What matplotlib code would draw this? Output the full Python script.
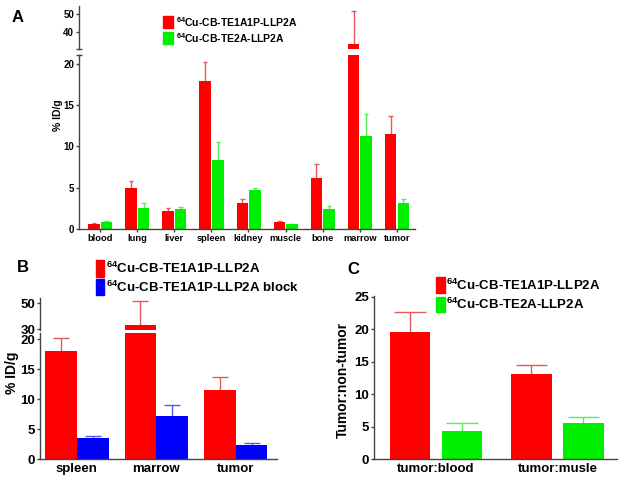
import matplotlib
matplotlib.use("Agg")
import matplotlib.pyplot as plt
from matplotlib.patches import Rectangle
import numpy as np

plt.rcParams['font.family'] = 'Liberation Sans'
plt.rcParams['font.weight'] = 'bold'
plt.rcParams['mathtext.fontset'] = 'custom'
plt.rcParams['mathtext.bf'] = 'Liberation Sans:bold'
plt.rcParams['mathtext.rm'] = 'Liberation Sans:bold'

# panel A: biodistribution
organs = ["blood", "lung", "liver", "spleen", "kidney", "muscle", "bone", "marrow", "tumor"]
a_te1a1p = [0.6, 5.0, 2.2, 17.9, 3.2, 0.9, 6.2, 33.3, 11.5]
a_te1a1p_err = [0.1, 0.8, 0.3, 2.3, 0.4, 0.1, 1.7, 18.5, 2.2]
a_te2a = [0.8, 2.6, 2.4, 8.4, 4.7, 0.55, 2.4, 11.3, 3.1]
a_te2a_err = [0.2, 0.5, 0.3, 2.1, 0.3, 0.05, 0.35, 2.6, 0.5]

# panel B: blocking
b_organs = ["spleen", "marrow", "tumor"]
b_te1a1p = [18.0, 33.3, 11.5]
b_te1a1p_err = [2.3, 18.5, 2.2]
b_block = [3.5, 7.25, 2.4]
b_block_err = [0.4, 1.8, 0.2]

# panel C: ratios
ratios = ["tumor:blood", "tumor:musle"]
c_te1a1p = [19.6, 13.1]
c_te1a1p_err = [3.1, 1.4]
c_te2a = [4.3, 5.6]
c_te2a_err = [1.3, 0.9]

RED = "#ff0000"
GREEN = "#00ee00"
BLUE = "#0000ff"
ERR_RED = "#e85a5a"
ERR_GREEN = "#55ee55"
ERR_BLUE = "#5555ff"
SPINE = "#444444"

W, H = 624, 482
fig = plt.figure(figsize=(6.24, 4.82), dpi=100)


def px_axes(left, top, right, bottom):
    return fig.add_axes([left / W, 1 - bottom / H, (right - left) / W, (bottom - top) / H])


def style(ax, size, bottom=True):
    for s in ["top", "right"]:
        ax.spines[s].set_visible(False)
    ax.spines["left"].set_color(SPINE)
    ax.spines["bottom"].set_color(SPINE)
    ax.spines["left"].set_linewidth(1)
    ax.spines["bottom"].set_linewidth(1)
    ax.tick_params(direction="out", length=2.5, width=1, pad=1, labelsize=size, colors=SPINE,
                   labelcolor="black")
    if not bottom:
        ax.spines["bottom"].set_visible(False)
        ax.tick_params(axis="x", bottom=False, labelbottom=False)


def bars(ax, x, vals, errs, width, color, ecolor, capw):
    x = np.asarray(x)
    vals = np.asarray(vals)
    errs = np.asarray(errs)
    ax.bar(x, vals, width=width, color=color, zorder=2)
    ax.vlines(x, vals, vals + errs, color=ecolor, lw=1, zorder=1)
    ax.hlines(vals + errs, x - capw, x + capw, color=ecolor, lw=1, zorder=1)


def end_caps(ax, where):
    for y in where:
        ax.plot([0], [y], marker="_", ms=5, mew=1, color=SPINE, transform=ax.transAxes, clip_on=False)


# ---------- panel A ----------
xa = np.arange(len(organs))
a_lo = px_axes(79, 55, 415, 229)
a_hi = px_axes(79, 6, 415, 49)
for ax in (a_lo, a_hi):
    bars(ax, xa - 0.165, a_te1a1p, a_te1a1p_err, 0.31, RED, ERR_RED, 0.06)
    bars(ax, xa + 0.175, a_te2a, a_te2a_err, 0.31, GREEN, ERR_GREEN, 0.06)
    ax.set_xlim(-0.566, 8.49)
a_lo.set_ylim(0, 21.09)
a_lo.set_yticks([0, 5, 10, 15, 20])
a_lo.set_xticks(xa)
a_lo.set_xticklabels(organs)
a_hi.set_ylim(30.6, 54.4)
a_hi.set_yticks([40, 50])
style(a_lo, 7)
style(a_hi, 7, bottom=False)
a_lo.tick_params(axis="x", labelsize=6.7)
end_caps(a_lo, [1])
end_caps(a_hi, [0])
fig.text(58 / W, 1 - 115 / H, "% ID/g", rotation=90, ha="center", va="center", fontsize=7.5)

# ---------- panel B ----------
xb = np.arange(len(b_organs))
b_lo = px_axes(40, 333, 277, 459)
b_hi = px_axes(40, 298, 277, 329.5)
for ax in (b_lo, b_hi):
    bars(ax, xb - 0.2, b_te1a1p, b_te1a1p_err, 0.4, RED, ERR_RED, 0.1)
    bars(ax, xb + 0.2, b_block, b_block_err, 0.4, BLUE, ERR_BLUE, 0.1)
    ax.set_xlim(-0.465, 2.52)
b_lo.set_ylim(0, 21.06)
b_lo.set_yticks([0, 5, 10, 15, 20])
b_lo.set_xticks(xb)
b_lo.set_xticklabels(b_organs)
b_hi.set_ylim(29.85, 54.1)
b_hi.set_yticks([30, 50])
style(b_lo, 9.5)
style(b_hi, 9.5, bottom=False)
b_lo.tick_params(axis="x", length=0, pad=3)
fig.text(12 / W, 1 - 373 / H, "% ID/g", rotation=90, ha="center", va="center", fontsize=10)

# ---------- panel C ----------
xc = np.arange(len(ratios))
c_ax = px_axes(374, 296, 617, 459)
bars(c_ax, xc - 0.214, c_te1a1p, c_te1a1p_err, 0.33, RED, ERR_RED, 0.13)
bars(c_ax, xc + 0.214, c_te2a, c_te2a_err, 0.33, GREEN, ERR_GREEN, 0.13)
c_ax.set_xlim(-0.51, 1.49)
c_ax.set_ylim(0, 25.1)
c_ax.set_yticks([0, 5, 10, 15, 20, 25])
c_ax.set_xticks(xc)
c_ax.set_xticklabels(ratios)
style(c_ax, 9.5)
c_ax.tick_params(axis="x", length=0, pad=3)
fig.text(343 / W, 1 - 380 / H, "Tumor:non-tumor", rotation=90, ha="center", va="center", fontsize=10)

# ---------- panel letters ----------
fig.text(17.5 / W, 1 - 17 / H, "A", ha="center", va="center", fontsize=12)
fig.text(22.5 / W, 1 - 268 / H, "B", ha="center", va="center", fontsize=12)
fig.text(353 / W, 1 - 270 / H, "C", ha="center", va="center", fontsize=12)


# ---------- legends ----------
def legend_entry(x0, y0, x1, y1, color, label, tx, size):
    fig.add_artist(Rectangle((x0 / W, 1 - y1 / H), (x1 - x0) / W, (y1 - y0) / H,
                             transform=fig.transFigure, color=color))
    fig.text(tx / W, 1 - (y0 + y1) / 2 / H, r"$^{\mathbf{64}}$" + label, ha="left", va="center",
             fontsize=size)


legend_entry(163, 16, 173, 28, RED, "Cu-CB-TE1A1P-LLP2A", 176, 7.5)
legend_entry(163, 32, 173, 44, GREEN, "Cu-CB-TE2A-LLP2A", 176, 7.5)
legend_entry(96, 260, 104, 277, RED, "Cu-CB-TE1A1P-LLP2A", 106, 9.5)
legend_entry(96, 279, 104, 295, BLUE, "Cu-CB-TE1A1P-LLP2A block", 106, 9.5)
legend_entry(436, 277, 445, 293, RED, "Cu-CB-TE1A1P-LLP2A", 446, 9.5)
legend_entry(436, 297, 445, 312, GREEN, "Cu-CB-TE2A-LLP2A", 446, 9.5)

fig.savefig("out.png", dpi=100)
